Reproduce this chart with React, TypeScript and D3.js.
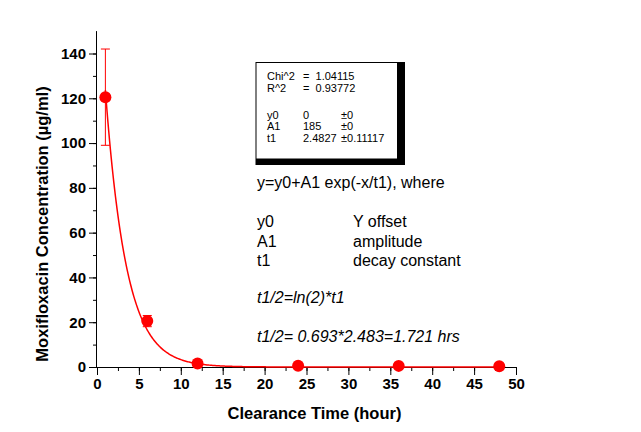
import React, { useEffect, useRef } from "react";
import * as d3 from "d3";

const times = [1, 6, 12, 24, 36, 48];
const conc = [120.5, 20.5, 1.6, 0.6, 0.5, 0.3];
const errs = [21.5, 2.5, 0.6, 0.3, 0.3, 0.2];
const xTicks = [0, 5, 10, 15, 20, 25, 30, 35, 40, 45, 50];
const yTicks = [0, 20, 40, 60, 80, 100, 120, 140];
const fitA1 = 185;
const fitT1 = 2.4827;
const statsRows = [
  ["Chi^2", "=  1.04115", ""],
  ["R^2", "=  0.93772", ""],
  ["", "", ""],
  ["y0", "0", "±0"],
  ["A1", "185", "±0"],
  ["t1", "2.4827", "±0.11117"],
];
const paramRows = [
  ["y0", "Y offset"],
  ["A1", "amplitude"],
  ["t1", "decay constant"],
];

const App = () => {
  const svgRef = useRef(null);

  useEffect(() => {
    const svg = d3.select(svgRef.current);
    svg.selectAll("*").remove();
    const font = "Arial, 'Liberation Sans', sans-serif";
    const red = "#ff0000";

    const x = d3.scaleLinear().domain([0, 50]).range([97, 516]);
    const y = d3.scaleLinear().domain([0, 140]).range([367, 53.5]);
    const yTop = y(150);

    // axes
    const gx = svg.append("g").attr("transform", `translate(0,${y(0)})`);
    gx.call(d3.axisBottom(x).tickValues(d3.range(0, 50.1, 2.5)).tickSize(4).tickFormat(() => ""));
    gx.call((g) => g.select(".domain").remove());
    gx.append("g").call(
      d3.axisBottom(x).tickValues(xTicks).tickSize(8).tickPadding(3).tickFormat(d3.format("d"))
    );
    gx.selectAll("text")
      .attr("font-family", font)
      .attr("font-weight", "bold")
      .attr("font-size", 15)
      .attr("fill", "#000");
    gx.selectAll("line").attr("stroke", "#000");
    gx.selectAll(".domain").attr("stroke", "#000").attr("d", `M${x(0)},0.5H${x(50)}`);

    const gy = svg.append("g").attr("transform", `translate(${x(0)},0)`);
    gy.call(d3.axisLeft(y).tickValues(d3.range(0, 150, 10)).tickSize(4).tickFormat(() => ""));
    gy.call((g) => g.select(".domain").remove());
    gy.append("g").call(
      d3.axisLeft(y).tickValues(yTicks).tickSize(8).tickPadding(3).tickFormat(d3.format("d"))
    );
    gy.selectAll("text")
      .attr("font-family", font)
      .attr("font-weight", "bold")
      .attr("font-size", 15)
      .attr("fill", "#000");
    gy.selectAll("line").attr("stroke", "#000");
    gy.selectAll(".domain").attr("stroke", "#000").attr("d", `M-0.5,${yTop}V${y(0)}`);

    // fit curve
    const curvePts = d3.range(times[0], 48.01, 0.1).map((t) => [t, fitA1 * Math.exp(-t / fitT1)]);
    svg
      .append("path")
      .datum(curvePts)
      .attr("fill", "none")
      .attr("stroke", red)
      .attr("stroke-width", 1.5)
      .attr(
        "d",
        d3
          .line()
          .x((d: any) => x(d[0]))
          .y((d: any) => y(d[1]))
      );

    // error bars
    const eb = svg.append("g").attr("stroke", red).attr("stroke-width", 1);
    times.forEach((t, i) => {
      const cx = x(t);
      const lo = y(conc[i] - errs[i]);
      const hi = y(conc[i] + errs[i]);
      eb.append("line").attr("x1", cx).attr("x2", cx).attr("y1", lo).attr("y2", hi);
      eb.append("line").attr("x1", cx - 4.5).attr("x2", cx + 4.5).attr("y1", lo).attr("y2", lo);
      eb.append("line").attr("x1", cx - 4.5).attr("x2", cx + 4.5).attr("y1", hi).attr("y2", hi);
    });

    svg
      .append("g")
      .selectAll("circle")
      .data(times)
      .enter()
      .append("circle")
      .attr("cx", (d: any) => x(d))
      .attr("cy", (d: any, i: number) => y(conc[i]))
      .attr("r", 6)
      .attr("fill", red);

    // stats box: thin left/top border, thick right/bottom edge
    svg.append("rect").attr("x", 255.5).attr("y", 62).attr("width", 149.5).attr("height", 103).attr("fill", "#000");
    svg.append("rect").attr("x", 256.5).attr("y", 63).attr("width", 140.5).attr("height", 95.5).attr("fill", "#fff");
    const cols = [267, 303, 341];
    const rowY = [79.5, 91.5, 105, 118.5, 130, 141.5];
    statsRows.forEach((row, i) => {
      row.forEach((s, j) => {
        if (!s) return;
        svg
          .append("text")
          .attr("x", cols[j])
          .attr("y", rowY[i])
          .attr("font-family", font)
          .attr("font-size", 11)
          .style("white-space", "pre")
          .text(s);
      });
    });

    // equation notes
    const note = (tx: number, ty: number, s: string, italic = false) =>
      svg
        .append("text")
        .attr("x", tx)
        .attr("y", ty)
        .attr("font-family", font)
        .attr("font-size", 16)
        .attr("font-style", italic ? "italic" : "normal")
        .text(s);
    note(257, 188, "y=y0+A1 exp(-x/t1), where");
    paramRows.forEach((r, i) => {
      note(257, 227 + i * 19.5, r[0]);
      note(353, 227 + i * 19.5, r[1]);
    });
    note(257, 303, "t1/2=ln(2)*t1", true);
    note(257, 341.5, "t1/2= 0.693*2.483=1.721 hrs", true);

    // axis titles
    svg
      .append("text")
      .attr("x", 314.5)
      .attr("y", 419)
      .attr("text-anchor", "middle")
      .attr("font-family", font)
      .attr("font-weight", "bold")
      .attr("font-size", 16.5)
      .text("Clearance Time (hour)");
    svg
      .append("text")
      .attr("transform", `translate(48,224) rotate(-90)`)
      .attr("text-anchor", "middle")
      .attr("font-family", font)
      .attr("font-weight", "bold")
      .attr("font-size", 16.5)
      .text("Moxifloxacin Concentration (µg/ml)");
  }, []);

  return (
    <div style={{ position: "absolute", left: 0, top: 0 }}>
      <svg ref={svgRef} width={641} height={432} style={{ display: "block", background: "#fff" }}></svg>
    </div>
  );
};

export default App;
